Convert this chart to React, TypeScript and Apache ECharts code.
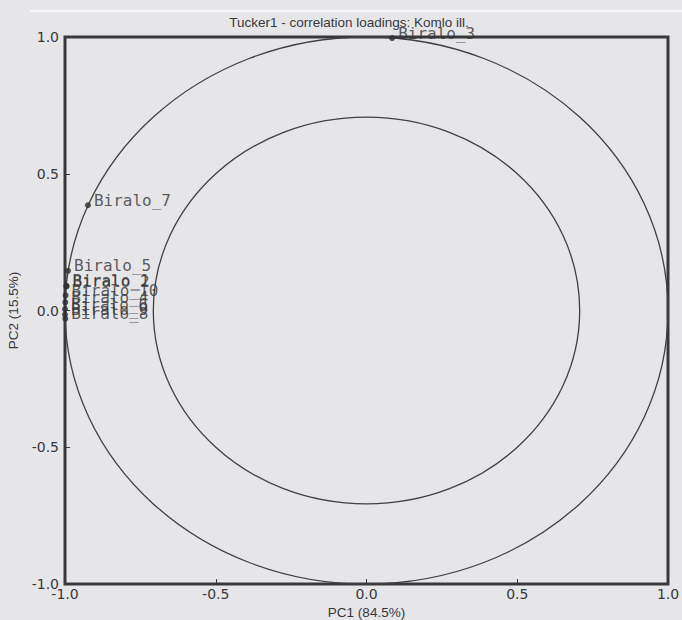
import React, { useEffect, useRef } from "react";
import * as echarts from "echarts";

const pointNames = [
  "Biralo_3",
  "Biralo_7",
  "Biralo_5",
  "Biralo_1",
  "Biralo_2",
  "Biralo_10",
  "Biralo_4",
  "Biralo_6",
  "Biralo_9",
  "Biralo_8",
];
const pc1 = [0.085, -0.924, -0.99, -0.995, -0.995, -0.998, -0.999, -1.0, -1.0, -0.999];
const pc2 = [0.996, 0.385, 0.145, 0.09, 0.088, 0.055, 0.03, 0.005, -0.015, -0.03];
const circleRadii = [1, 0.7071];
const xTicks = [-1.0, -0.5, 0.0, 0.5, 1.0];
const yTicks = [-1.0, -0.5, 0.0, 0.5, 1.0];

export default function App() {
  const ref = useRef<HTMLDivElement>(null);
  useEffect(() => {
    document.body.style.margin = "0";
    const chart = echarts.init(ref.current!, null, { renderer: "svg" });
    const ink = "#38383a";
    const narrow = "Liberation Sans Narrow, Liberation Sans, Arial";
    chart.setOption({
      animation: false,
      backgroundColor: "#e6e6e9",
      title: {
        text: "Tucker1 - correlation loadings: Komlo ill.",
        left: 344,
        top: 10,
        textAlign: "center",
        textStyle: {
          fontFamily: narrow,
          fontSize: 13.5,
          fontWeight: "normal",
          color: ink,
        },
      },
      graphic: [
        {
          type: "line",
          shape: { x1: 30, y1: 11, x2: 682, y2: 11 },
          style: { stroke: "#f6f6f8", lineWidth: 2 },
        },
      ],
      grid: {
        left: 65,
        right: 14,
        top: 37,
        bottom: 36,
        outerBoundsMode: "none",
        containLabel: false,
        show: true,
        borderColor: ink,
        borderWidth: 3,
        backgroundColor: "transparent",
      },
      xAxis: {
        type: "value",
        min: -1,
        max: 1,
        interval: 0.5,
        name: "PC1 (84.5%)",
        nameLocation: "middle",
        nameGap: 18,
        nameTextStyle: { fontFamily: narrow, fontSize: 13.5, color: ink },
        axisLine: { show: false, onZero: false },
        axisTick: { show: true, inside: true, length: 5, lineStyle: { color: ink } },
        splitLine: { show: false },
        axisLabel: {
          margin: 3,
          fontFamily: "DejaVu Sans",
          fontSize: 14,
          color: ink,
          formatter: (v: number) => (xTicks.includes(v) ? v.toFixed(1) : ""),
        },
      },
      yAxis: {
        type: "value",
        min: -1,
        max: 1,
        interval: 0.5,
        name: "PC2 (15.5%)",
        nameLocation: "middle",
        nameGap: 40,
        nameTextStyle: { fontFamily: narrow, fontSize: 13.5, color: ink },
        axisLine: { show: false, onZero: false },
        axisTick: { show: true, inside: true, length: 5, lineStyle: { color: ink } },
        splitLine: { show: false },
        axisLabel: {
          margin: 6,
          fontFamily: "DejaVu Sans",
          fontSize: 14,
          color: ink,
          formatter: (v: number) => (yTicks.includes(v) ? v.toFixed(1) : ""),
        },
      },
      series: [
        {
          type: "custom",
          data: circleRadii.map((r) => [0, 0, r]),
          encode: { x: 0, y: 1 },
          clip: false,
          z: 1,
          renderItem: (params: any, api: any) => {
            const c = api.coord([api.value(0), api.value(1)]);
            const r = api.value(2);
            const s = api.size([r, r]);
            return {
              type: "ellipse",
              shape: { cx: c[0], cy: c[1], rx: s[0], ry: s[1] },
              style: { fill: "none", stroke: "#404042", lineWidth: 1.3 },
            };
          },
        },
        {
          type: "scatter",
          z: 3,
          symbolSize: 6,
          itemStyle: { color: "#303032" },
          data: pointNames.map((n, i) => ({ name: n, value: [pc1[i], pc2[i]] })),
          label: {
            show: true,
            position: "right",
            distance: 3,
            offset: [0, -5],
            formatter: (p: any) => p.name,
            fontFamily: "DejaVu Sans Mono",
            fontSize: 16,
            color: "#353537",
          },
        },
      ],
    });
    return () => chart.dispose();
  }, []);
  return <div ref={ref} style={{ width: 682, height: 620 }} />;
}
